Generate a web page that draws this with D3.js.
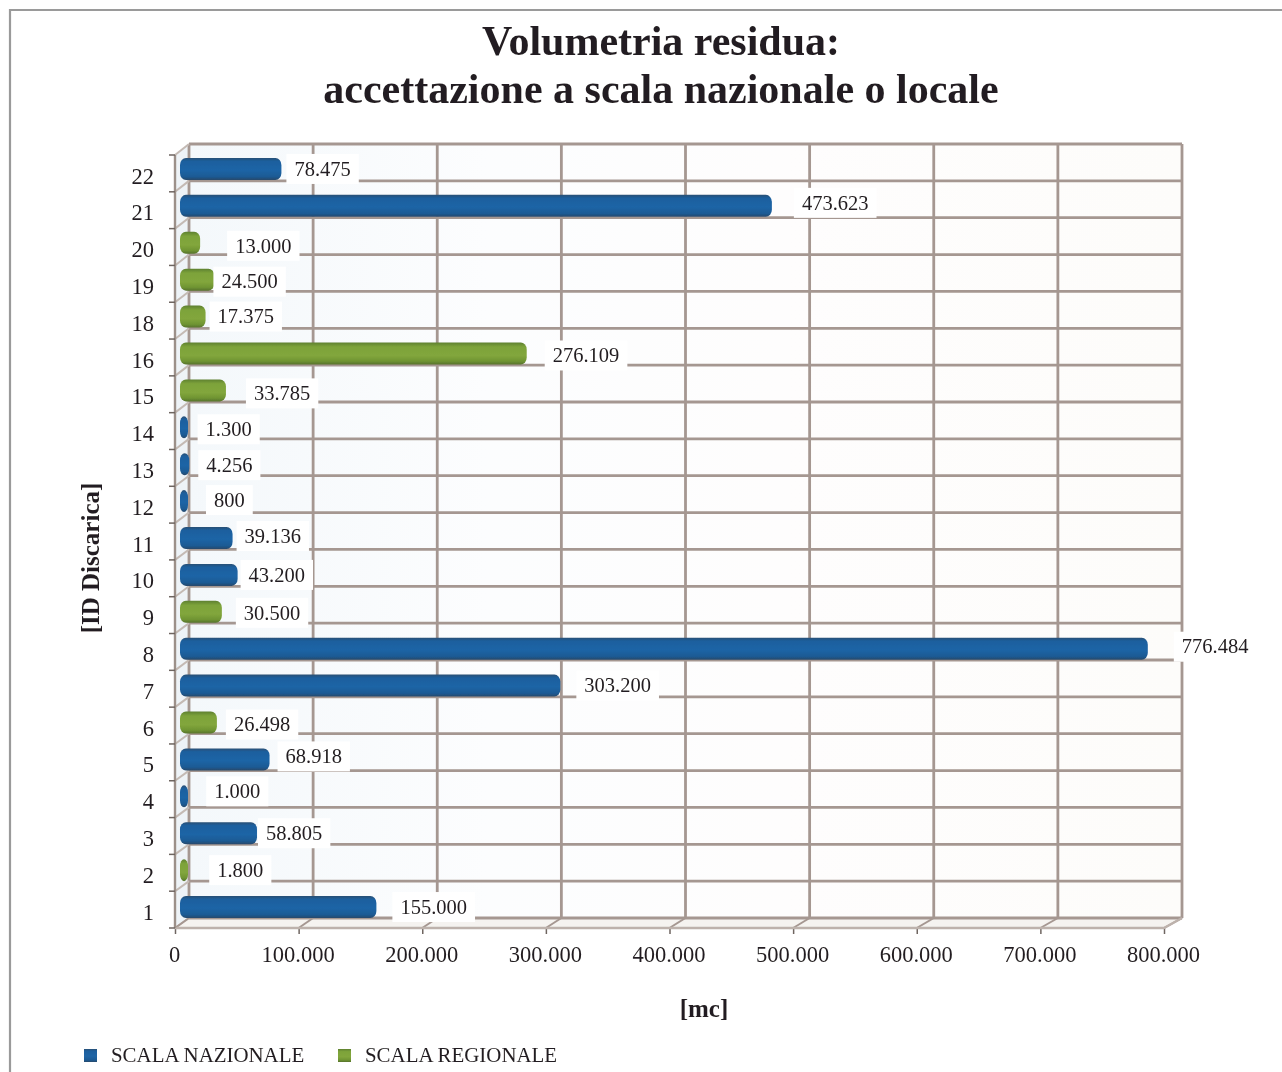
<!DOCTYPE html>
<html><head><meta charset="utf-8">
<script src="https://cdnjs.cloudflare.com/ajax/libs/d3/7.8.5/d3.min.js"></script>
<style>html,body{margin:0;padding:0;background:#fff}svg{display:block}text{font-family:"Liberation Serif",serif;fill:#231f20}</style>
</head><body><div id="c"></div>
<script>
const categories=["1","2","3","4","5","6","7","8","9","10","11","12","13","14","15","16","18","19","20","21","22"];
const values=[155000,1800,58805,1000,68918,26498,303200,776484,30500,43200,39136,800,4256,1300,33785,276109,17375,24500,13000,473623,78475];
const scales=["N","R","N","N","N","R","N","N","R","N","N","N","N","N","R","R","R","R","R","N","N"];
const seriesNames={N:"SCALA NAZIONALE",R:"SCALA REGIONALE"};
const xTicks=[0,100000,200000,300000,400000,500000,600000,700000,800000];
const titleLines=["Volumetria residua:","accettazione a scala nazionale o locale"];
// hand-placed data label offsets of the original (px from the bar end / bar centre)
const labelDx=[24,31,9,29,16,17,24,34,22,11,12,29,17,20,28,26,12,7,35,30,13];
const labelDy=[0,0,0,-5,-3,2,0,-2,1,0,-2,-1,1,2,3,2,0,2,3,-3,0];

const W=1282,H=1072;
const svg=d3.select("#c").append("svg").attr("width",W).attr("height",H);
const defs=svg.append("defs");
defs.append("filter").attr("id","soft").append("feGaussianBlur").attr("stdDeviation",0.7);
defs.append("filter").attr("id","txt").append("feGaussianBlur").attr("stdDeviation",0.3);
function grad(id,stops){const g=defs.append("linearGradient").attr("id",id).attr("x1",0).attr("x2",0).attr("y1",0).attr("y2",1);
 stops.forEach(s=>g.append("stop").attr("offset",s[0]).attr("stop-color",s[1]));}
grad("gN",[[0,"#2a4f74"],[.15,"#1c5f9e"],[.55,"#1f65a6"],[.85,"#1b5a94"],[1,"#28496a"]]);
grad("gR",[[0,"#5e8030"],[.2,"#7da33a"],[.6,"#82a63c"],[.85,"#6f9432"],[1,"#56722c"]]);
const wall=defs.append("linearGradient").attr("id","wall").attr("x1",0).attr("x2",1).attr("y1",0).attr("y2",0);
[[0,"#f4f8fb"],[.3,"#fcfdfe"],[.6,"#fefdfd"],[1,"#fdfcfa"]].forEach(s=>wall.append("stop").attr("offset",s[0]).attr("stop-color",s[1]));

// frame: left and top edges only
svg.append("path").attr("d",`M10,${H}V10H${W}`).attr("fill","none").attr("stroke","#9a9a9a").attr("stroke-width",2.2);

const textLayer=svg.append("g").attr("filter","url(#txt)");
// title
textLayer.selectAll("text.title").data(titleLines).join("text").attr("class","title")
 .attr("x",661).attr("y",(d,i)=>[54.5,102.5][i]).attr("text-anchor","middle")
 .style("font-weight","bold").style("font-size","42px").text(d=>d);

// scales: front axis, back wall and bars
const xFront=d3.scaleLinear().domain([0,800000]).range([175,1164]);
const xBack=d3.scaleLinear().domain([0,800000]).range([189,1182]);
const xBar=d3.scaleLinear().domain([0,800000]).range([184,1177]);
const rev=categories.slice().reverse();
const yFront=d3.scaleBand().domain(rev).range([155,928]);
const yBack=d3.scaleBand().domain(rev).range([144,918]);
const yBar=d3.scaleBand().domain(rev).range([150.5,925.5]);

const grid=svg.append("g").attr("filter","url(#soft)");
const xb=xBack.range(),yb=yBack.range(),xf=xFront.range(),yf=yFront.range();
grid.append("rect").attr("x",xb[0]).attr("y",yb[0]).attr("width",xb[1]-xb[0]).attr("height",yb[1]-yb[0]).attr("fill","url(#wall)");
grid.append("path").attr("d",`M${xf[0]},${yf[0]}L${xb[0]},${yb[0]}V${yb[1]}L${xf[0]},${yf[1]}Z`).attr("fill","#eef3f7");
grid.append("path").attr("d",`M${xf[0]},${yf[1]}L${xb[0]},${yb[1]}H${xb[1]}L${xf[1]},${yf[1]}Z`).attr("fill","#f5f3f0");
const gc="#a59791";
// back-wall gridlines
grid.selectAll("line.v").data(xTicks).join("line").attr("x1",d=>xBack(d)).attr("x2",d=>xBack(d)).attr("y1",yb[0]).attr("y2",yb[1])
 .attr("stroke",gc).attr("stroke-width",2.8);
const yEdges=rev.map(c=>yBack(c)).concat([yb[1]]);
const yEdgesF=rev.map(c=>yFront(c)).concat([yf[1]]);
grid.selectAll("line.h").data(yEdges).join("line").attr("x1",xb[0]).attr("x2",xb[1]).attr("y1",d=>d).attr("y2",d=>d)
 .attr("stroke",gc).attr("stroke-width",2.8);
// wall / floor slants
grid.selectAll("line.s").data(yEdges).join("line").attr("x1",xf[0]).attr("x2",xb[0]).attr("y1",(d,i)=>yEdgesF[i]).attr("y2",d=>d)
 .attr("stroke","#c4bab4").attr("stroke-width",2);
grid.selectAll("line.f").data(xTicks).join("line").attr("x1",d=>xFront(d)).attr("x2",d=>xBack(d)).attr("y1",yf[1]).attr("y2",yb[1])
 .attr("stroke",gc).attr("stroke-width",2);
grid.append("path").attr("d",`M${xf[0]},${yf[1]}H${xf[1]}L${xb[1]},${yb[1]}`).attr("fill","none").attr("stroke","#bdb2ac").attr("stroke-width",2.4);
grid.append("line").attr("x1",xf[0]).attr("x2",xf[0]).attr("y1",yf[0]).attr("y2",yf[1]).attr("stroke","#9c9089").attr("stroke-width",2.4);

// axes
const axX=textLayer.append("g").attr("transform",`translate(0,${yf[1]})`)
 .call(d3.axisBottom(xFront).tickValues(xTicks).tickSize(6).tickSizeOuter(0).tickPadding(12)
   .tickFormat(d=>d3.format(",")(d).replace(/,/g,".")));
const axY=textLayer.append("g").attr("transform",`translate(${xf[0]},0)`)
 .call(d3.axisLeft(yFront).tickSize(0).tickPadding(21));
[axX,axY].forEach(a=>{a.select(".domain").remove();a.selectAll("text").style("font-family",'"Liberation Serif",serif').style("font-size","22.5px").attr("fill","#231f20");a.selectAll("line").attr("stroke","#6e6560").attr("stroke-width",1.5);});
axX.selectAll("text").attr("dx",-1);
axY.selectAll("text").attr("dy","0.45em").attr("y",0);
svg.append("g").selectAll("line").data(yEdgesF).join("line").attr("x1",xf[0]-6).attr("x2",xf[0]).attr("y1",d=>d).attr("y2",d=>d).attr("stroke","#6e6560").attr("stroke-width",1.5);

// bars
const idx=d3.range(categories.length);
const bh=22;
svg.append("g").attr("filter","url(#soft)").selectAll("rect").data(idx).join("rect")
 .attr("x",xBar(0)-4).attr("y",i=>yBar(categories[i])+yBar.bandwidth()/2-bh/2)
 .attr("width",i=>Math.max(8,xBar(values[i])-xBar(0)+4)).attr("height",bh).attr("rx",6).attr("ry",7)
 .attr("fill",i=>scales[i]==="N"?"url(#gN)":"url(#gR)");

// data labels on white plates
const fmt=d=>d3.format(",")(d).replace(/,/g,".");
const plates=svg.append("g"), lab=svg.append("g").attr("filter","url(#txt)");
idx.forEach(i=>{
 const cy=yBar(categories[i])+yBar.bandwidth()/2+labelDy[i];
 const x0=xBar(values[i])+labelDx[i];
 const t=lab.append("text").attr("x",x0).attr("y",cy).attr("dy","0.33em").style("font-size","20.5px").text(fmt(values[i]));
 const w=t.node().getComputedTextLength();
 plates.append("rect").attr("x",x0-8).attr("y",cy-15).attr("width",w+16).attr("height",30).attr("fill","#fff");
});

// axis titles
textLayer.append("text").attr("x",704).attr("y",1017).attr("text-anchor","middle").style("font-weight","bold").style("font-size","25px").text("[mc]");
textLayer.append("text").attr("transform","translate(99,558) rotate(-90)").attr("text-anchor","middle").style("font-weight","bold").style("font-size","25px").text("[ID Discarica]");

// legend
const legend=[["N",84,111],["R",338,365]];
const lg=svg.append("g");
legend.forEach(l=>{
 lg.append("rect").attr("x",l[1]).attr("y",1049).attr("width",13).attr("height",13).attr("fill",l[0]==="N"?"url(#gN)":"url(#gR)");
 textLayer.append("text").attr("x",l[2]).attr("y",1062).style("font-size","20.9px").text(seriesNames[l[0]]);
});
</script></body></html>
